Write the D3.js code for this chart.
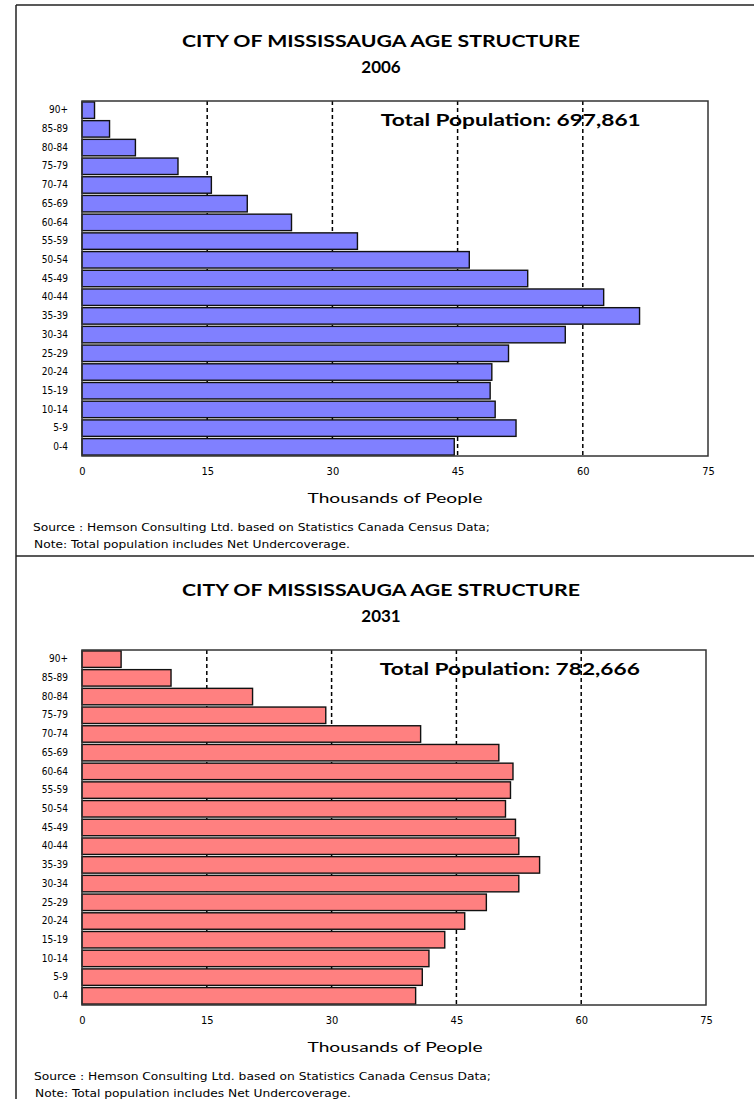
<!DOCTYPE html>
<html>
<head>
<meta charset="utf-8">
<script src="https://cdn.jsdelivr.net/npm/d3@7"></script>
<style>
  body { margin: 0; background: #fff; }
  svg { display: block; }
</style>
</head>
<body>
<svg id="chart" width="754" height="1099"></svg>
<script>
// Age groups, youngest first (drawn bottom-up)
const ageGroups = ["0-4","5-9","10-14","15-19","20-24","25-29","30-34","35-39","40-44",
                   "45-49","50-54","55-59","60-64","65-69","70-74","75-79","80-84","85-89","90+"];

// Population by age group, thousands of people
const pop2006 = [44.6, 52.0, 49.5, 48.9, 49.1, 51.1, 57.9, 66.8, 62.5,
                 53.4, 46.4, 33.0, 25.1, 19.8, 15.5, 11.5, 6.4, 3.3, 1.5];
const pop2031 = [40.1, 40.9, 41.7, 43.6, 46.0, 48.6, 52.5, 55.0, 52.5,
                 52.1, 50.9, 51.5, 51.8, 50.1, 40.7, 29.3, 20.5, 10.7, 4.7];

const xTicks = [0, 15, 30, 45, 60, 75];
const gridTicks = [15, 30, 45, 60];

const chartTitle = "CITY OF MISSISSAUGA AGE STRUCTURE";
const panelYears = ["2006", "2031"];
const panelTotals = ["697,861", "782,666"];
const xAxisTitle = "Thousands of People";
const sourceNote = "Source : Hemson Consulting Ltd. based on Statistics Canada Census Data;";
const totalNote = "Note: Total population includes Net Undercoverage.";

const svg = d3.select("#chart");
const narrow = "'Liberation Sans Narrow', 'DejaVu Sans Condensed', 'Arial Narrow', sans-serif";
const heading = "Lato, 'DejaVu Sans', sans-serif";

// Outer frame: left edge, top edge and divider between the two panels
const frame = svg.append("g").attr("stroke", "#222").attr("stroke-width", 1.5).attr("fill", "none");
frame.append("line").attr("x1", 16).attr("y1", 5).attr("x2", 16).attr("y2", 1099);
frame.append("line").attr("x1", 16).attr("y1", 5).attr("x2", 754).attr("y2", 5);
frame.append("line").attr("x1", 16).attr("y1", 556).attr("x2", 754).attr("y2", 556);

const panels = [
  { values: pop2006, fill: "#8080ff", dy: 0,   left: 82, right: 708, top: 101, bottom: 456 },
  { values: pop2031, fill: "#ff8080", dy: 549, left: 82, right: 706, top: 650, bottom: 1005 }
];

panels.forEach((p, i) => {
  const g = svg.append("g");

  const x = d3.scaleLinear().domain([0, 75]).range([p.left, p.right]);
  const y = d3.scaleBand()
    .domain(ageGroups.slice().reverse())
    .range([p.top, p.bottom])
    .paddingInner(0.12)
    .paddingOuter(0.05);

  // Titles
  g.append("text")
    .attr("x", 381).attr("y", 47 + p.dy)
    .attr("text-anchor", "middle")
    .attr("font-family", heading).attr("font-weight", "bold").attr("font-size", 17)
    .attr("textLength", 398).attr("lengthAdjust", "spacingAndGlyphs")
    .text(chartTitle);
  g.append("text")
    .attr("x", 381).attr("y", 73 + p.dy)
    .attr("text-anchor", "middle")
    .attr("font-family", heading).attr("font-weight", "bold").attr("font-size", 17)
    .text(panelYears[i]);

  // Dashed vertical gridlines
  g.append("g").selectAll("line").data(gridTicks).join("line")
    .attr("x1", d => x(d)).attr("x2", d => x(d))
    .attr("y1", p.top).attr("y2", p.bottom)
    .attr("stroke", "#000").attr("stroke-width", 1.5)
    .attr("stroke-dasharray", "4,3");

  // Total population label
  g.append("text")
    .attr("x", x(35.8)).attr("y", 126 + p.dy)
    .attr("font-family", heading).attr("font-weight", "bold").attr("font-size", 17)
    .attr("textLength", 260).attr("lengthAdjust", "spacingAndGlyphs")
    .text("Total Population: " + panelTotals[i]);

  // Bars
  g.append("g").selectAll("rect").data(ageGroups.map((a, k) => ({ age: a, v: p.values[k] })))
    .join("rect")
    .attr("x", x(0))
    .attr("y", d => y(d.age))
    .attr("width", d => x(d.v) - x(0))
    .attr("height", y.bandwidth())
    .attr("fill", p.fill)
    .attr("stroke", "#111").attr("stroke-width", 1.4);

  // Plot frame
  g.append("rect")
    .attr("x", p.left).attr("y", p.top)
    .attr("width", p.right - p.left).attr("height", p.bottom - p.top)
    .attr("fill", "none").attr("stroke", "#333").attr("stroke-width", 1.5);

  // Category axis
  const yAxis = g.append("g")
    .attr("transform", `translate(${p.left},0)`)
    .call(d3.axisLeft(y).tickSize(0).tickPadding(14));
  yAxis.select(".domain").remove();
  yAxis.selectAll("text")
    .attr("font-family", narrow).attr("font-size", 10).attr("fill", "#000");

  // Value axis labels
  const xAxis = g.append("g")
    .attr("transform", `translate(0,${p.bottom})`)
    .call(d3.axisBottom(x).tickValues(xTicks).tickSize(0).tickPadding(11));
  xAxis.select(".domain").remove();
  xAxis.selectAll("text")
    .attr("font-family", narrow).attr("font-size", 11).attr("fill", "#000");

  // Axis title
  g.append("text")
    .attr("x", 395).attr("y", 503 + p.dy)
    .attr("text-anchor", "middle")
    .attr("font-family", heading).attr("font-size", 14)
    .attr("textLength", 175).attr("lengthAdjust", "spacingAndGlyphs")
    .text(xAxisTitle);

  // Footnotes
  g.append("text")
    .attr("x", 33 + i).attr("y", 531 + p.dy)
    .attr("font-family", narrow).attr("font-size", 10.5)
    .attr("textLength", 457).attr("lengthAdjust", "spacingAndGlyphs")
    .text(sourceNote);
  g.append("text")
    .attr("x", 34 + i).attr("y", 548 + p.dy)
    .attr("font-family", narrow).attr("font-size", 10.5)
    .attr("textLength", 316).attr("lengthAdjust", "spacingAndGlyphs")
    .text(totalNote);
});
</script>
</body>
</html>
